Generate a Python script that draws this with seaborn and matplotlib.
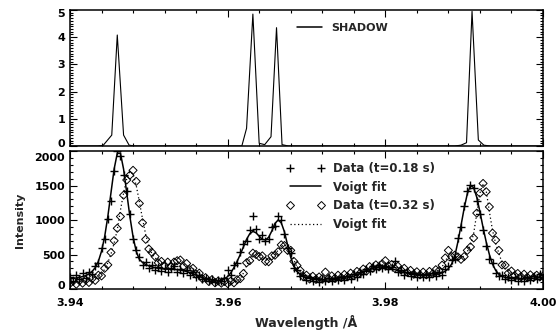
import numpy as np
import matplotlib
matplotlib.use('Agg')
import matplotlib.pyplot as plt
import matplotlib.transforms as mtransforms
import seaborn as sns
from matplotlib.lines import Line2D
from matplotlib.ticker import MultipleLocator

# SHADOW simulated profile (top panel)
shadow_wl = [3.9400, 3.9435, 3.9442, 3.9453, 3.9460, 3.9468, 3.9475, 3.9482,
             3.9610, 3.9618, 3.9624, 3.9632, 3.9640, 3.9647, 3.9655, 3.9662,
             3.9669, 3.9677, 3.9700, 3.9880, 3.9888, 3.9896, 3.9903, 3.9910,
             3.9918, 3.9925, 3.9933, 4.0000]
shadow_val = [0.0, 0.0, 0.02, 0.40, 4.08, 0.40, 0.03, 0.0,
              0.0, 0.0, 0.65, 4.85, 0.10, 0.05, 0.34, 4.35,
              0.05, 0.0, 0.0, 0.0, 0.0, 0.03, 0.12, 4.95,
              0.22, 0.03, 0.0, 0.0]

# measured spectra, sampled every 0.0004 A from 3.9400 to 4.0000
wl = np.round(np.arange(151) * 0.0004 + 3.94, 4)

data_018 = [170, 120, 205, 140, 235, 160, 250, 215, 335, 372,
            590, 720, 1020, 1280, 1710, 1995, 1930, 1650, 1420, 1090,
            720, 560, 470, 350, 390, 300, 345, 270, 325, 260,
            310, 250, 300, 330, 240, 295, 230, 270, 205, 240,
            170, 200, 140, 165, 110, 145, 100, 135, 110, 160,
            270, 210, 345, 370, 540, 650, 690, 850, 1060, 870,
            720, 780, 690, 730, 900, 920, 1060, 1000, 800, 600,
            520, 310, 280, 190, 210, 130, 175, 120, 160, 105,
            150, 115, 155, 110, 160, 125, 170, 130, 185, 150,
            215, 180, 250, 215, 295, 260, 330, 285, 345, 300,
            340, 285, 320, 410, 240, 275, 210, 250, 190, 230,
            175, 220, 170, 215, 175, 225, 185, 245, 210, 290,
            330, 420, 430, 740, 900, 1200, 1420, 1510, 1460, 1280,
            1080, 860, 630, 430, 370, 230, 190, 210, 140, 180,
            125, 170, 115, 165, 120, 175, 130, 185, 140, 220,
            160]
fit_018 = [146, 152, 160, 169, 181, 195, 219, 254, 309, 400,
           547, 759, 1050, 1396, 1738, 1968, 1968, 1738, 1396, 1050,
           759, 547, 430, 385, 355, 335, 320, 308, 300, 294,
           290, 287, 285, 283, 280, 274, 265, 253, 238, 221,
           203, 185, 167, 151, 138, 128, 121, 122, 130, 148,
           180, 235, 310, 400, 500, 610, 720, 800, 835, 815,
           765, 720, 710, 750, 840, 950, 1000, 960, 830, 640,
           460, 330, 255, 210, 180, 162, 150, 142, 136, 132,
           130, 130, 131, 133, 136, 140, 146, 153, 162, 173,
           187, 203, 222, 242, 262, 281, 297, 309, 316, 318,
           315, 307, 295, 281, 266, 251, 238, 226, 216, 208,
           202, 198, 196, 196, 198, 203, 210, 220, 235, 258,
           295, 360, 470, 680, 920, 1170, 1380, 1500, 1470, 1330,
           1120, 890, 680, 500, 360, 270, 215, 185, 168, 158,
           152, 148, 146, 145, 146, 148, 152, 157, 163, 168,
           172]

data_032 = [80, 115, 70, 120, 85, 130, 95, 150, 125, 200,
            190, 300, 350, 530, 700, 880, 1050, 1360, 1580, 1650,
            1720, 1560, 1240, 960, 720, 580, 530, 470, 380, 400,
            340, 390, 330, 390, 410, 420, 330, 370, 280, 300,
            215, 230, 150, 165, 110, 135, 90, 115, 85, 110,
            80, 115, 90, 135, 150, 225, 380, 410, 520, 500,
            470, 480, 400, 395, 480, 490, 540, 640, 630, 560,
            560, 400, 340, 270, 180, 200, 145, 185, 140, 175,
            150, 245, 150, 190, 155, 200, 165, 210, 180, 230,
            195, 255, 230, 290, 260, 325, 300, 350, 320, 365,
            410, 330, 355, 300, 330, 275, 300, 240, 270, 215,
            250, 205, 245, 205, 255, 220, 280, 265, 345, 450,
            560, 470, 490, 465, 430, 470, 560, 610, 740, 1100,
            1390, 1530, 1410, 1190, 810, 710, 560, 350, 345, 230,
            260, 195, 225, 180, 215, 170, 205, 165, 200, 175,
            190]
fit_032 = [95, 97, 100, 103, 107, 112, 120, 132, 150, 178,
           220, 285, 380, 505, 665, 860, 1141, 1390, 1598, 1705,
           1668, 1503, 1266, 1018, 791, 620, 510, 450, 410, 385,
           370, 362, 360, 362, 365, 364, 355, 336, 308, 274,
           238, 204, 174, 150, 132, 119, 110, 104, 100, 98,
           97, 99, 104, 114, 150, 230, 340, 440, 505, 520,
           495, 455, 425, 420, 445, 500, 565, 620, 640, 610,
           530, 420, 320, 250, 205, 180, 168, 162, 160, 160,
           161, 163, 165, 168, 172, 176, 181, 187, 195, 205,
           217, 231, 247, 265, 283, 300, 315, 328, 337, 342,
           343, 340, 333, 322, 308, 292, 276, 261, 248, 237,
           229, 224, 222, 224, 230, 241, 258, 283, 318, 410,
           470, 480, 470, 455, 450, 480, 540, 640, 800, 1100,
           1390, 1530, 1420, 1120, 850, 660, 520, 380, 300, 258,
           234, 218, 207, 199, 193, 189, 186, 184, 183, 182,
           182]

x_ticks = [3.94, 3.96, 3.98, 4.00]
x_labels = ['3.94', '3.96', '3.98', '4.00']

sns.set_theme(style='ticks')
plt.rcParams['font.family'] = ['DejaVu Sans']
plt.rcParams['font.weight'] = 'bold'
plt.rcParams['axes.labelweight'] = 'bold'


def style_axis(ax):
    for s in ax.spines.values():
        s.set_linewidth(1.1)
        s.set_color('black')
    ax.tick_params(which='both', direction='in', top=True, right=True,
                   colors='black', labelsize=8, width=0.8)
    ax.tick_params(which='major', length=5)
    ax.tick_params(which='minor', length=2.5)
    ax.tick_params(axis='x', pad=6.5)
    ax.tick_params(axis='y', pad=3.5)
    ax.set_xlim(3.94, 4.00)
    ax.set_xticks(x_ticks)
    ax.xaxis.set_minor_locator(MultipleLocator(0.004))
    ax.set_facecolor('white')


def nudge_edge_labels(fig, ax, low_dy, high_dy):
    # IDL draws the end labels pulled inside the frame a bit
    labels = ax.get_yticklabels()
    for lab, dy in ((labels[0], low_dy), (labels[-1], high_dy)):
        off = mtransforms.ScaledTranslation(0, dy / 72, fig.dpi_scale_trans)
        lab.set_transform(lab.get_transform() + off)


fig = plt.figure(figsize=(5.58, 3.30), dpi=100)
ax1 = fig.add_axes([0.1254, 0.5576, 0.8477, 0.4121])
ax2 = fig.add_axes([0.1254, 0.1242, 0.8477, 0.4182])

# top: SHADOW
sns.lineplot(x=shadow_wl, y=shadow_val, ax=ax1, color='black', linewidth=0.8)
style_axis(ax1)
ax1.set_ylim(0, 5)
ax1.set_yticks([0, 1, 2, 3, 4, 5])
ax1.yaxis.set_minor_locator(MultipleLocator(0.1))
ax1.set_xticklabels([])
ax1.set_xlabel('')
ax1.legend(handles=[Line2D([], [], color='black', lw=1.1)], labels=['SHADOW'],
           loc='upper left', bbox_to_anchor=(0.48, 0.908), frameon=False,
           borderpad=0, borderaxespad=0, handlelength=2.25, handletextpad=0.8,
           prop={'size': 8, 'weight': 'bold'})

# bottom: data + Voigt fits
sns.lineplot(x=wl, y=fit_018, ax=ax2, color='black', linewidth=1.1)
sns.lineplot(x=wl, y=fit_032, ax=ax2, color='black', linewidth=0.9,
             linestyle=(0, (1, 2)))
sns.scatterplot(x=wl, y=data_018, ax=ax2, marker='+', s=36, color='black',
                linewidth=1.0)
sns.scatterplot(x=wl, y=data_032, ax=ax2, marker='D', s=17,
                facecolor='none', edgecolor='black', linewidth=0.7)
style_axis(ax2)
ax2.set_ylim(0, 2000)
ax2.set_yticks([0, 500, 1000, 1500, 2000])
ax2.yaxis.set_minor_locator(MultipleLocator(100))
ax2.set_xticklabels(x_labels)
ax2.set_xlabel('Wavelength /Å', fontsize=9, labelpad=5)
ax2.set_ylabel('Intensity', fontsize=8, labelpad=7)

nudge_edge_labels(fig, ax1, 2.2, -2.2)
nudge_edge_labels(fig, ax2, 2.8, -4.0)

handles = [
    Line2D([], [], marker='+', ls='none', color='black', markersize=6, mew=1.0),
    Line2D([], [], color='black', lw=1.1),
    Line2D([], [], marker='D', ls='none', mfc='none', mec='black',
           markersize=4.2, mew=0.7),
    Line2D([], [], color='black', lw=0.9, ls=(0, (1, 2))),
]
labels = ['Data (t=0.18 s)', 'Voigt fit', 'Data (t=0.32 s)', 'Voigt fit']
ax2.legend(handles=handles, labels=labels, numpoints=2, loc='upper left',
           bbox_to_anchor=(0.4567, 0.92), frameon=False, borderpad=0,
           borderaxespad=0, handlelength=3.3, handletextpad=0.68,
           labelspacing=0.47, prop={'size': 8.5, 'weight': 'bold'})

fig.savefig('out.png', dpi=100)
